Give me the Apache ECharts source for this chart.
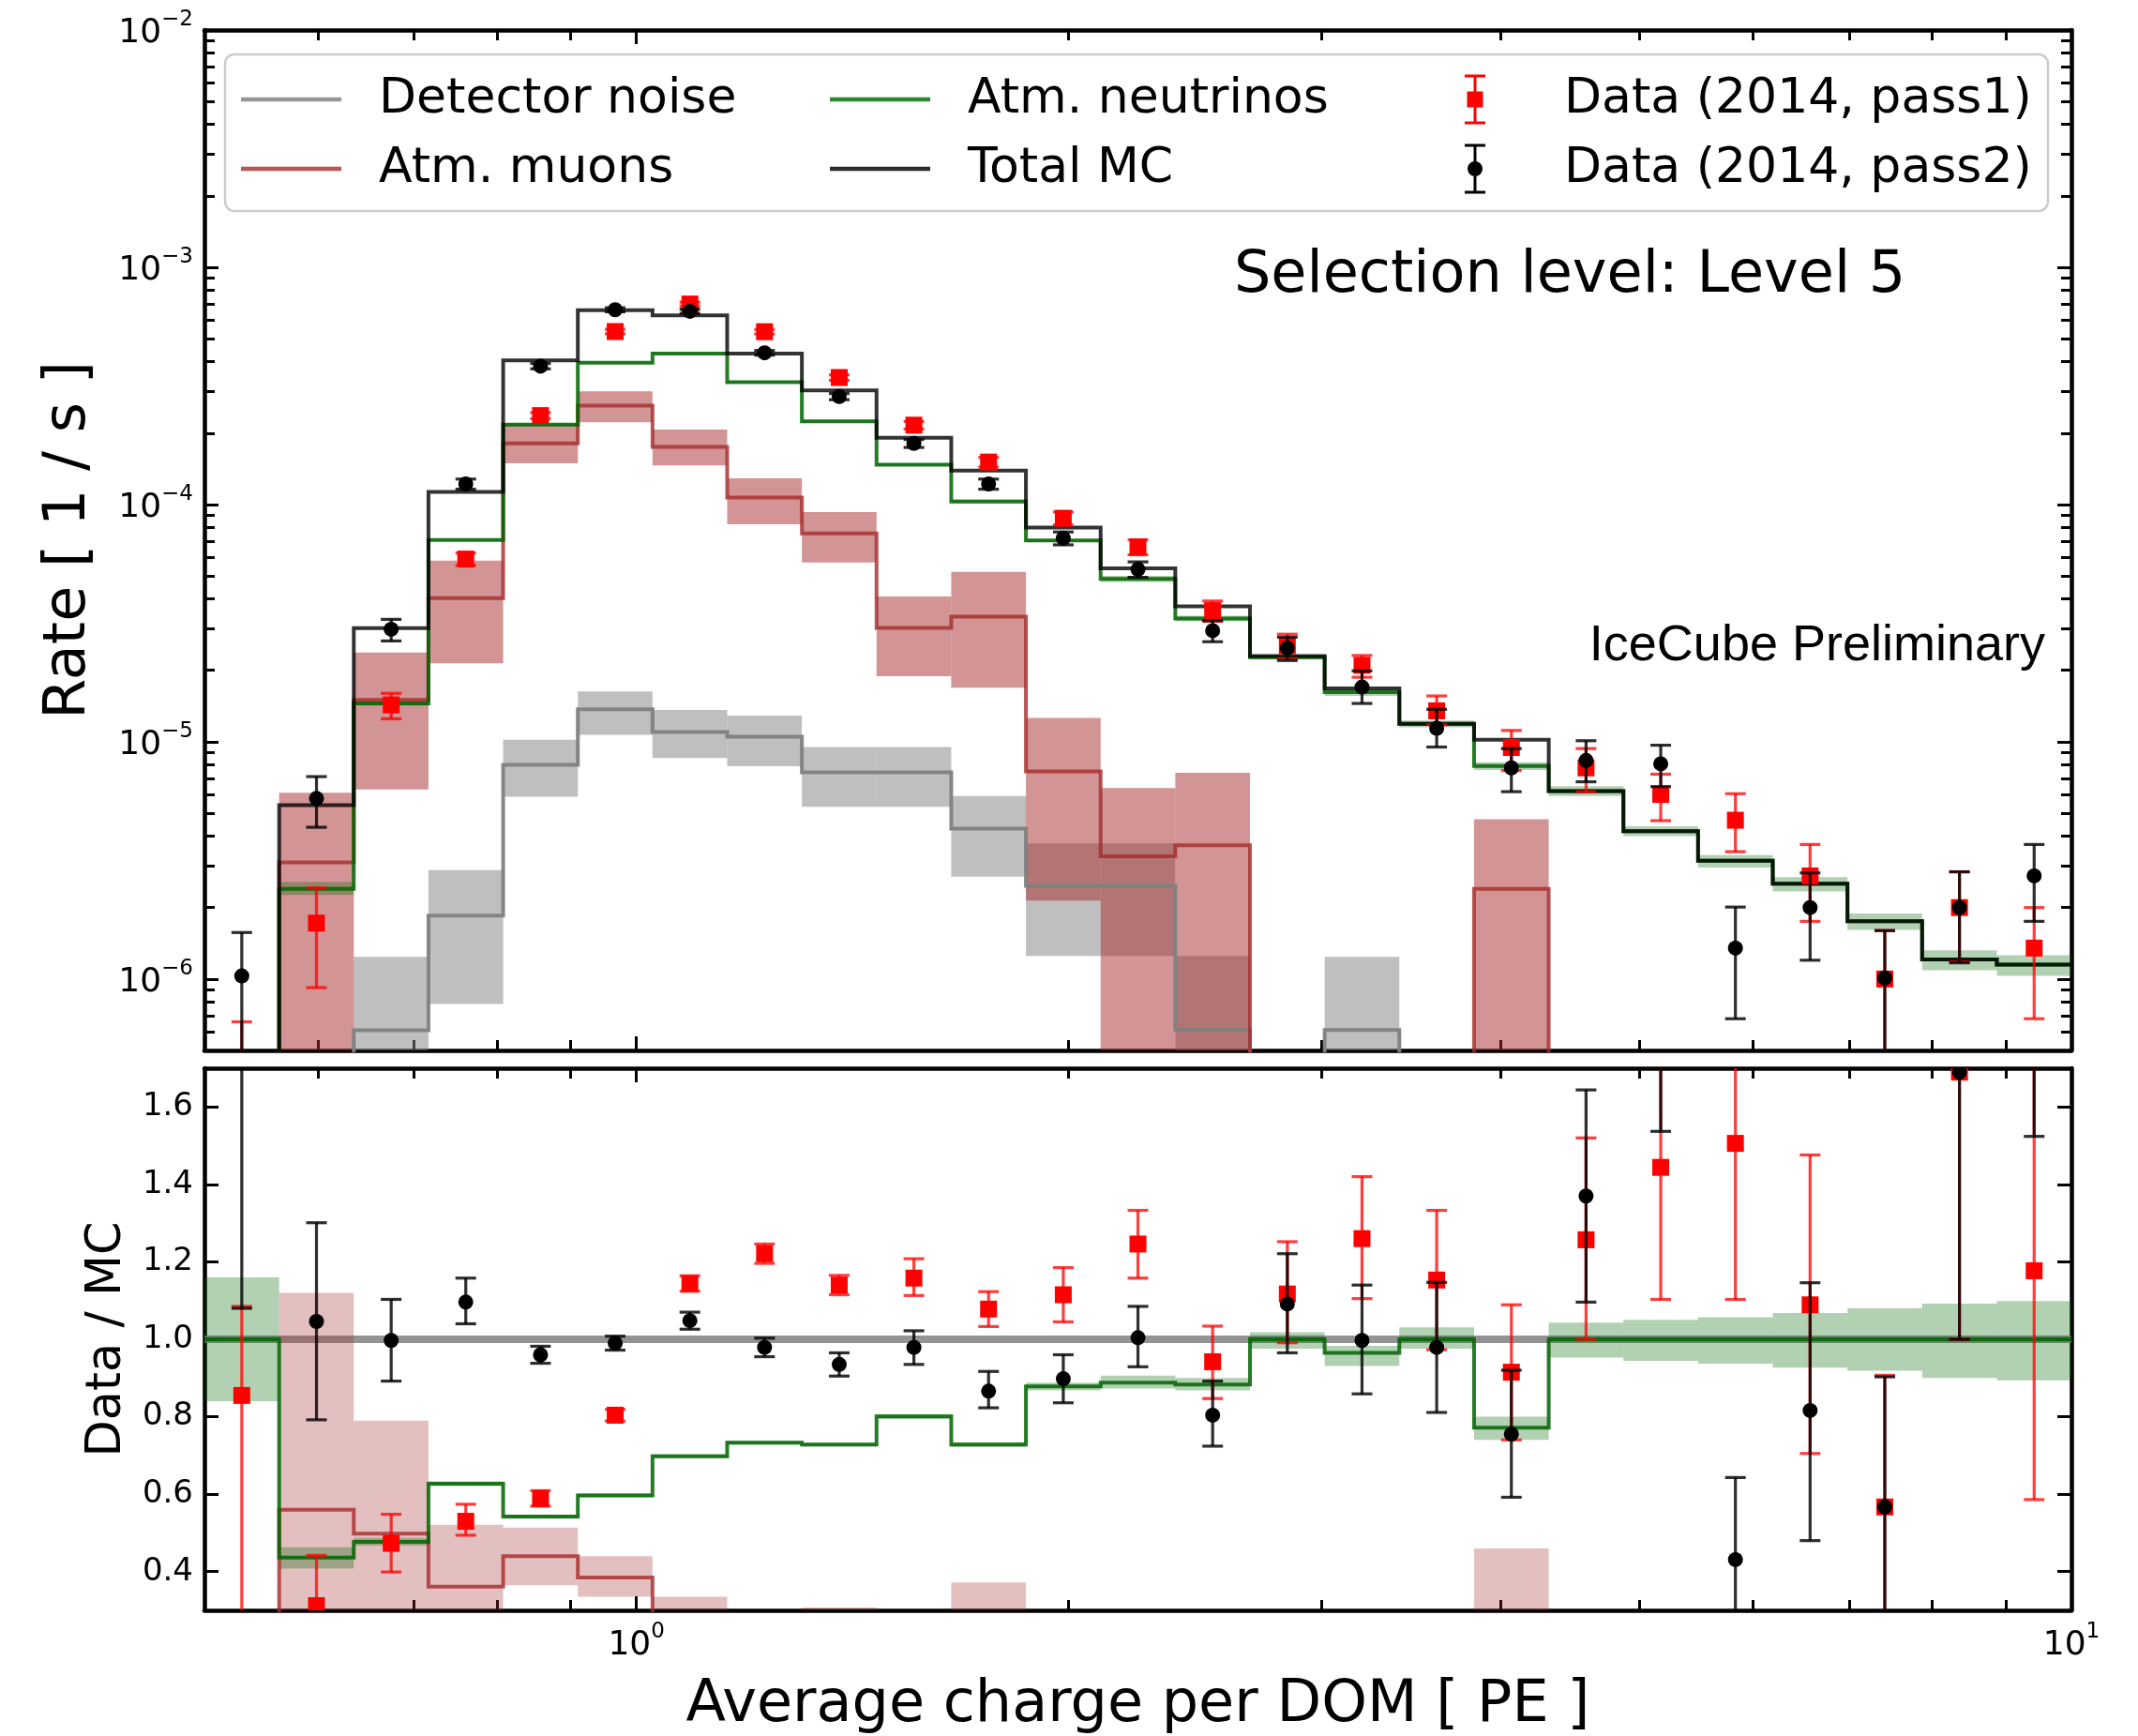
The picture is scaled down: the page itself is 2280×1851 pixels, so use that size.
<!DOCTYPE html>
<html>
<head>
<meta charset="utf-8">
<title>Average charge per DOM</title>
<script src="https://cdn.jsdelivr.net/npm/echarts@6/dist/echarts.min.js"></script>
<style>
  html, body { margin: 0; padding: 0; background: #ffffff; }
  #chart { width: 2280px; height: 1851px; }
</style>
</head>
<body>
<div id="chart"></div>
<script>
// ---------------------------------------------------------------------------
// Histogram binning: 25 log-spaced bins of average charge per DOM [PE]
// ---------------------------------------------------------------------------
const binEdges = [0.5, 0.5637, 0.6354, 0.7163, 0.8075, 0.9103, 1.0262, 1.1568, 1.3041,
  1.4701, 1.6573, 1.8683, 2.1062, 2.3743, 2.6766, 3.0173, 3.4014, 3.8345, 4.3227,
  4.8730, 5.4933, 6.1927, 6.9811, 7.8699, 8.8718, 10];
const binCenters = [0.5309, 0.5985, 0.6747, 0.7605, 0.8574, 0.9665, 1.0896, 1.2283,
  1.3846, 1.5609, 1.7596, 1.9837, 2.2362, 2.5209, 2.8418, 3.2036, 3.6115, 4.0712,
  4.5894, 5.1738, 5.8325, 6.5751, 7.4121, 8.3557, 9.4196];

// Tick positions
const xMajorTicks = [1, 10];
const xMinorTicks = [0.6, 0.7, 0.8, 0.9, 2, 3, 4, 5, 6, 7, 8, 9];
const rateMajorTicks = [1e-6, 1e-5, 1e-4, 1e-3, 1e-2];
const rateMinorTicks = [6e-7, 7e-7, 8e-7, 9e-7,
  2e-6, 3e-6, 4e-6, 5e-6, 6e-6, 7e-6, 8e-6, 9e-6,
  2e-5, 3e-5, 4e-5, 5e-5, 6e-5, 7e-5, 8e-5, 9e-5,
  2e-4, 3e-4, 4e-4, 5e-4, 6e-4, 7e-4, 8e-4, 9e-4,
  2e-3, 3e-3, 4e-3, 5e-3, 6e-3, 7e-3, 8e-3, 9e-3];
const ratioTicks = [0.4, 0.6, 0.8, 1.0, 1.2, 1.4, 1.6];

// ---------------------------------------------------------------------------
// Rates [1/s] (null = empty bin)
// ---------------------------------------------------------------------------
const rateTotalMC = [null, 5.41e-6, 3.01e-5, 1.13e-4, 4.05e-4, 6.59e-4, 6.27e-4, 4.33e-4,
  3.03e-4, 1.91e-4, 1.39e-4, 8.0e-5, 5.38e-5, 3.72e-5, 2.30e-5, 1.68e-5, 1.19e-5,
  1.02e-5, 6.2e-6, 4.2e-6, 3.15e-6, 2.52e-6, 1.75e-6, 1.21e-6, 1.15e-6];

const rateNu = [null, 2.40e-6, 1.45e-5, 7.08e-5, 2.17e-4, 3.96e-4, 4.33e-4, 3.28e-4,
  2.24e-4, 1.47e-4, 1.03e-4, 7.05e-5, 4.86e-5, 3.31e-5, 2.27e-5, 1.62e-5, 1.19e-5,
  7.9e-6, 6.2e-6, 4.2e-6, 3.15e-6, 2.52e-6, 1.75e-6, 1.21e-6, 1.15e-6];
const rateNuLo = [null, 2.26e-6, 1.42e-5, 7.0e-5, 2.15e-4, 3.92e-4, 4.28e-4, 3.24e-4,
  2.21e-4, 1.45e-4, 1.01e-4, 6.95e-5, 4.72e-5, 3.22e-5, 2.22e-5, 1.56e-5, 1.15e-5,
  7.6e-6, 5.9e-6, 4.0e-6, 2.95e-6, 2.34e-6, 1.61e-6, 1.09e-6, 1.03e-6];
const rateNuHi = [null, 2.56e-6, 1.48e-5, 7.18e-5, 2.20e-4, 4.0e-4, 4.38e-4, 3.32e-4,
  2.27e-4, 1.49e-4, 1.05e-4, 7.15e-5, 5.0e-5, 3.4e-5, 2.32e-5, 1.65e-5, 1.23e-5,
  8.2e-6, 6.5e-6, 4.4e-6, 3.33e-6, 2.69e-6, 1.89e-6, 1.32e-6, 1.26e-6];

const rateMu = [null, 3.1e-6, 1.5e-5, 4.03e-5, 1.81e-4, 2.61e-4, 1.75e-4, 1.07e-4,
  7.55e-5, 3.02e-5, 3.37e-5, 7.5e-6, 3.29e-6, 3.66e-6, null, null, null,
  2.4e-6, null, null, null, null, null, null, null];
const rateMuLo = [null, 0, 6.3e-6, 2.14e-5, 1.49e-4, 2.22e-4, 1.46e-4, 8.26e-5,
  5.69e-5, 1.89e-5, 1.69e-5, 2.14e-6, 0, 0, null, null, null,
  0, null, null, null, null, null, null, null];
const rateMuHi = [null, 6.1e-6, 2.38e-5, 5.8e-5, 2.17e-4, 3.0e-4, 2.07e-4, 1.29e-4,
  9.3e-5, 4.1e-5, 5.2e-5, 1.26e-5, 6.38e-6, 7.4e-6, null, null, null,
  4.71e-6, null, null, null, null, null, null, null];

const rateNoise = [null, null, 6.08e-7, 1.85e-6, 8.0e-6, 1.37e-5, 1.10e-5, 1.05e-5,
  7.43e-6, 7.43e-6, 4.3e-6, 2.47e-6, 2.47e-6, 6.12e-7, null, 6.1e-7, null,
  null, null, null, null, null, null, null, null];
const rateNoiseLo = [null, null, 0, 7.84e-7, 5.87e-6, 1.07e-5, 8.53e-6, 7.89e-6,
  5.32e-6, 5.32e-6, 2.7e-6, 1.25e-6, 1.25e-6, 0, null, 0, null,
  null, null, null, null, null, null, null, null];
const rateNoiseHi = [null, null, 1.24e-6, 2.88e-6, 1.02e-5, 1.63e-5, 1.36e-5, 1.29e-5,
  9.5e-6, 9.5e-6, 5.9e-6, 3.73e-6, 3.73e-6, 1.25e-6, null, 1.24e-6, null,
  null, null, null, null, null, null, null, null];

const ratePass1 = [4.4e-7, 1.72e-6, 1.43e-5, 5.89e-5, 2.37e-4, 5.36e-4, 7.0e-4, 5.35e-4,
  3.43e-4, 2.16e-4, 1.51e-4, 8.75e-5, 6.62e-5, 3.57e-5, 2.54e-5, 2.1e-5, 1.35e-5,
  9.46e-6, 7.76e-6, 6.0e-6, 4.67e-6, 2.72e-6, 1.0e-6, 2.0e-6, 1.35e-6];
const ratePass1Up = [2.2e-7, 7.0e-7, 1.7e-6, 3.5e-6, 7e-6, 1.2e-5, 1.3e-5, 1.2e-5,
  9e-6, 8e-6, 7e-6, 5.5e-6, 4.8e-6, 3.5e-6, 3.0e-6, 2.1e-6, 2.1e-6,
  1.7e-6, 1.6e-6, 1.3e-6, 1.37e-6, 9.7e-7, 6.0e-7, 8.3e-7, 6.5e-7];
const ratePass1Down = [2.5e-7, 8.0e-7, 1.8e-6, 3.5e-6, 7e-6, 1.2e-5, 1.3e-5, 1.2e-5,
  9e-6, 8e-6, 7e-6, 5.5e-6, 4.8e-6, 3.5e-6, 3.0e-6, 2.3e-6, 1.7e-6,
  1.9e-6, 1.6e-6, 1.35e-6, 1.23e-6, 9.7e-7, 5.5e-7, 8.2e-7, 6.7e-7];

const ratePass2 = [1.03e-6, 5.77e-6, 2.98e-5, 1.22e-4, 3.83e-4, 6.62e-4, 6.52e-4, 4.36e-4,
  2.85e-4, 1.81e-4, 1.22e-4, 7.21e-5, 5.33e-5, 2.94e-5, 2.48e-5, 1.70e-5, 1.14e-5,
  7.76e-6, 8.34e-6, 8.07e-6, 1.35e-6, 2.0e-6, 1.01e-6, 2.0e-6, 2.72e-6];
const ratePass2Up = [5.4e-7, 1.36e-6, 3.0e-6, 6e-6, 1.0e-5, 1.3e-5, 1.3e-5, 1.0e-5,
  8.5e-6, 7e-6, 6e-6, 4.5e-6, 4.0e-6, 3.0e-6, 2.8e-6, 2.9e-6, 2.3e-6,
  1.6e-6, 1.76e-6, 1.6e-6, 6.6e-7, 8.0e-7, 5.9e-7, 8.3e-7, 9.7e-7];
const ratePass2Down = [6.0e-7, 1.41e-6, 3.2e-6, 6e-6, 1.0e-5, 1.3e-5, 1.3e-5, 1.0e-5,
  8.5e-6, 7e-6, 6e-6, 4.5e-6, 4.0e-6, 3.0e-6, 2.8e-6, 2.5e-6, 1.9e-6,
  1.6e-6, 1.56e-6, 1.6e-6, 6.7e-7, 8.0e-7, 6.0e-7, 8.3e-7, 9.7e-7];

// ---------------------------------------------------------------------------
// Data / MC ratios
// ---------------------------------------------------------------------------
const ratioTotalMC = [1, 1, 1, 1, 1, 1, 1, 1, 1, 1, 1, 1, 1, 1, 1, 1, 1, 1, 1, 1, 1, 1, 1, 1, 1];

const ratioNu = [1.0, 0.436, 0.477, 0.627, 0.542, 0.597, 0.698, 0.733, 0.728, 0.801,
  0.728, 0.878, 0.888, 0.883, 1.0, 0.965, 1.0, 0.772, 1.0, 1.0, 1.0, 1.0, 1.0, 1.0, 1.0];
const ratioNuLo = [0.84, 0.408, 0.467, 0.621, 0.537, 0.592, 0.693, 0.728, 0.723, 0.795,
  0.722, 0.868, 0.873, 0.868, 0.976, 0.931, 0.976, 0.74, 0.953, 0.944, 0.937, 0.927,
  0.919, 0.90, 0.894];
const ratioNuHi = [1.16, 0.463, 0.487, 0.633, 0.547, 0.602, 0.703, 0.738, 0.733, 0.807,
  0.734, 0.888, 0.906, 0.90, 1.018, 0.983, 1.031, 0.80, 1.043, 1.05, 1.057, 1.068,
  1.08, 1.092, 1.099];

const ratioMu = [null, 0.56, 0.498, 0.361, 0.44, 0.385, 0.279, 0.247, 0.249, 0.158,
  0.242, 0.094, 0.061, 0.098, null, null, null, 0.235, null, null, null, null, null, null, null];
const ratioMuLo = [null, 0, 0.21, 0.19, 0.365, 0.335, 0.233, 0.19, 0.188, 0.099,
  0.122, 0.027, 0, 0, null, null, null, 0, null, null, null, null, null, null, null];
const ratioMuHi = [null, 1.12, 0.79, 0.521, 0.514, 0.44, 0.335, 0.298, 0.307, 0.215,
  0.372, 0.158, 0.118, 0.2, null, null, null, 0.46, null, null, null, null, null, null, null];

const ratioPass1 = [0.855, 0.312, 0.473, 0.530, 0.589, 0.804, 1.144, 1.221, 1.14, 1.158,
  1.078, 1.115, 1.246, 0.942, 1.117, 1.26, 1.153, 0.915, 1.257, 1.444, 1.506, 1.089,
  0.567, 1.69, 1.177];
const ratioPass1Up = [0.23, 0.13, 0.075, 0.044, 0.02, 0.015, 0.02, 0.025, 0.025, 0.05,
  0.045, 0.07, 0.087, 0.092, 0.135, 0.16, 0.18, 0.174, 0.263, 0.34, 0.40, 0.387,
  0.34, 0.69, 0.59];
const ratioPass1Down = [0.6, 0.13, 0.074, 0.036, 0.02, 0.015, 0.02, 0.025, 0.025, 0.045,
  0.045, 0.07, 0.088, 0.095, 0.126, 0.155, 0.18, 0.175, 0.257, 0.341, 0.403, 0.384,
  0.34, 0.69, 0.591];

const ratioPass2 = [2.2, 1.046, 0.997, 1.096, 0.96, 0.99, 1.048, 0.979, 0.935, 0.979,
  0.866, 0.898, 1.004, 0.804, 1.091, 0.997, 0.979, 0.755, 1.37, 1.89, 0.431, 0.816,
  0.567, 1.69, 2.34];
const ratioPass2Up = [1.0, 0.255, 0.106, 0.062, 0.022, 0.018, 0.022, 0.024, 0.03, 0.043,
  0.051, 0.062, 0.081, 0.088, 0.13, 0.143, 0.168, 0.165, 0.274, 0.35, 0.212, 0.33,
  0.336, 0.69, 0.82];
const ratioPass2Down = [1.12, 0.254, 0.105, 0.056, 0.022, 0.018, 0.022, 0.024, 0.03, 0.044,
  0.043, 0.062, 0.075, 0.08, 0.126, 0.138, 0.168, 0.163, 0.274, 0.353, 0.212, 0.336,
  0.336, 0.69, 0.816];

// ---------------------------------------------------------------------------
// Styling
// ---------------------------------------------------------------------------
const FONT = 'DejaVu Sans';
const COLORS = {
  noiseLine: 'rgba(128,128,128,0.95)',
  noiseBand: 'rgba(128,128,128,0.5)',
  muLine: 'rgba(165,42,42,0.8)',
  muBand: 'rgba(165,42,42,0.5)',
  muBandLight: 'rgba(165,42,42,0.3)',
  nuLine: 'rgba(0,100,0,0.85)',
  nuBand: 'rgba(0,100,0,0.3)',
  mcLine: 'rgba(0,0,0,0.8)',
  mcRatioLine: 'rgba(128,128,128,0.85)',
  pass1: '#ff0000',
  pass1Bar: 'rgba(255,0,0,0.76)',
  pass2: '#000000',
  pass2Bar: 'rgba(0,0,0,0.82)'
};
const RATE_MIN = 5e-7, RATE_MAX = 1e-2, RATE_FLOOR = 1e-9;
const RATIO_MIN = 0.3, RATIO_MAX = 1.7;

// ---------------------------------------------------------------------------
// Series builders
// ---------------------------------------------------------------------------
function stepLine(name, xi, yi, vals, floor, color, width, z) {
  const pts = vals.map((v, i) => [binEdges[i], v == null ? floor : v]);
  const last = vals[vals.length - 1];
  pts.push([binEdges[vals.length], last == null ? floor : last]);
  return {
    type: 'line', name, xAxisIndex: xi, yAxisIndex: yi, step: 'end', data: pts,
    symbol: 'none', showSymbol: false, clip: true, silent: true, z,
    lineStyle: { color, width, join: 'miter', cap: 'butt' },
    itemStyle: { color }
  };
}

function bands(name, xi, yi, lo, hi, floor, color, z) {
  const data = [];
  hi.forEach((h, i) => {
    if (h == null) return;
    const l = lo[i] == null ? floor : Math.max(lo[i], floor);
    data.push([binEdges[i], binEdges[i + 1], l, h]);
  });
  return {
    type: 'custom', name, xAxisIndex: xi, yAxisIndex: yi, clip: true, silent: true, z,
    encode: { x: [0, 1], y: [2, 3] }, data,
    renderItem(params, api) {
      const a = api.coord([api.value(0), api.value(3)]);
      const b = api.coord([api.value(1), api.value(2)]);
      return { type: 'rect', shape: { x: a[0], y: a[1], width: b[0] - a[0], height: b[1] - a[1] },
        style: { fill: color } };
    }
  };
}

function errorBars(name, xi, yi, vals, up, down, floor, marker, color, barColor, z) {
  const data = vals.map((v, i) => [binCenters[i], v, Math.max(v - down[i], floor), v + up[i]]);
  return {
    type: 'custom', name, xAxisIndex: xi, yAxisIndex: yi, clip: true, silent: true, z,
    encode: { x: 0, y: [1, 2, 3] }, data,
    renderItem(params, api) {
      const c = api.coord([api.value(0), api.value(1)]);
      const lo = api.coord([api.value(0), api.value(2)]);
      const hi = api.coord([api.value(0), api.value(3)]);
      const cap = 11;
      const ls = { stroke: barColor, lineWidth: 3.2 };
      const children = [
        { type: 'line', shape: { x1: c[0], y1: hi[1], x2: c[0], y2: lo[1] }, style: ls },
        { type: 'line', shape: { x1: c[0] - cap, y1: hi[1], x2: c[0] + cap, y2: hi[1] }, style: ls },
        { type: 'line', shape: { x1: c[0] - cap, y1: lo[1], x2: c[0] + cap, y2: lo[1] }, style: ls }
      ];
      if (marker === 'square') {
        children.push({ type: 'rect', shape: { x: c[0] - 9, y: c[1] - 9, width: 18, height: 18 },
          style: { fill: color } });
      } else {
        children.push({ type: 'circle', shape: { cx: c[0], cy: c[1], r: 8 }, style: { fill: color } });
      }
      return { type: 'group', children };
    }
  };
}

// ---------------------------------------------------------------------------
// Axes: every panel gets a full frame with inward ticks on all four sides
// ---------------------------------------------------------------------------
const powRich = {
  b: { fontFamily: FONT, fontSize: 36, color: '#000', lineHeight: 44, verticalAlign: 'bottom' },
  s: { fontFamily: FONT, fontSize: 23, color: '#000', lineHeight: 26, verticalAlign: 'top' }
};
function powLabel(v) {
  const e = Math.round(Math.log10(v));
  return '{b|10}{s|' + (e < 0 ? '\u2212' + (-e) : String(e)) + '}';
}

function frameAxis(o) {
  const a = {
    type: o.type, gridIndex: o.grid, position: o.position, min: o.min, max: o.max,
    axisLine: { show: !!o.line, onZero: false, lineStyle: { color: '#000', width: 4.5 } },
    axisTick: { show: true, inside: true, length: o.tickLen, customValues: o.ticks,
      lineStyle: { color: '#000', width: 3 } },
    axisLabel: o.label ? Object.assign({ show: true, customValues: o.ticks }, o.label) : { show: false },
    splitLine: { show: false },
    minorTick: { show: false },
    axisPointer: { show: false },
    silent: true
  };
  if (o.type === 'log') a.logBase = 10;
  if (o.name) Object.assign(a, o.name);
  return a;
}

const MAJOR_LEN = 15, MINOR_LEN = 11;
const xAxes = [];
[0, 1].forEach(g => {
  const xl = { type: 'log', grid: g, min: 0.5, max: 10 };
  xAxes.push(frameAxis(Object.assign({}, xl, {
    position: 'bottom', line: true, ticks: xMajorTicks, tickLen: MAJOR_LEN,
    label: g === 1 ? { margin: 12, formatter: powLabel, rich: powRich } : null,
    name: g === 1 ? {
      name: 'Average charge per DOM [ PE ]', nameLocation: 'middle', nameGap: 71,
      nameTextStyle: { fontFamily: FONT, fontSize: 62, color: '#000' }
    } : null
  })));
  xAxes.push(frameAxis(Object.assign({}, xl, { position: 'bottom', ticks: xMinorTicks, tickLen: MINOR_LEN })));
  xAxes.push(frameAxis(Object.assign({}, xl, { position: 'top', line: true, ticks: xMajorTicks, tickLen: MAJOR_LEN })));
  xAxes.push(frameAxis(Object.assign({}, xl, { position: 'top', ticks: xMinorTicks, tickLen: MINOR_LEN })));
});

const yRate = { type: 'log', grid: 0, min: RATE_MIN, max: RATE_MAX };
const yRatio = { type: 'value', grid: 1, min: RATIO_MIN, max: RATIO_MAX };
const yAxes = [
  frameAxis(Object.assign({}, yRate, {
    position: 'left', line: true, ticks: rateMajorTicks, tickLen: MAJOR_LEN,
    label: { margin: 12, formatter: powLabel, rich: powRich },
    name: { name: 'Rate [ 1 / s ]', nameLocation: 'middle', nameGap: 113,
      nameTextStyle: { fontFamily: FONT, fontSize: 62, color: '#000' } }
  })),
  frameAxis(Object.assign({}, yRate, { position: 'left', ticks: rateMinorTicks, tickLen: MINOR_LEN })),
  frameAxis(Object.assign({}, yRate, { position: 'right', line: true, ticks: rateMajorTicks, tickLen: MAJOR_LEN })),
  frameAxis(Object.assign({}, yRate, { position: 'right', ticks: rateMinorTicks, tickLen: MINOR_LEN })),
  frameAxis(Object.assign({}, yRatio, {
    position: 'left', line: true, ticks: ratioTicks, tickLen: MAJOR_LEN,
    label: { margin: 12, fontFamily: FONT, fontSize: 34, color: '#000', formatter: v => v.toFixed(1) },
    name: { name: 'Data / MC', nameLocation: 'middle', nameGap: 78,
      nameTextStyle: { fontFamily: FONT, fontSize: 51, color: '#000' } }
  })),
  frameAxis(Object.assign({}, yRatio, { position: 'right', line: true, ticks: ratioTicks, tickLen: MAJOR_LEN }))
];

// ---------------------------------------------------------------------------
// Series
// ---------------------------------------------------------------------------
const series = [
  // upper panel: rates
  stepLine('Detector noise', 0, 0, rateNoise, RATE_FLOOR, COLORS.noiseLine, 4, 3),
  stepLine('Atm. muons', 0, 0, rateMu, RATE_FLOOR, COLORS.muLine, 4, 3),
  stepLine('Atm. neutrinos', 0, 0, rateNu, RATE_FLOOR, COLORS.nuLine, 4, 3),
  stepLine('Total MC', 0, 0, rateTotalMC, RATE_FLOOR, COLORS.mcLine, 4, 4),
  errorBars('Data (2014, pass1)', 0, 0, ratePass1, ratePass1Up, ratePass1Down, RATE_FLOOR,
    'square', COLORS.pass1, COLORS.pass1Bar, 5),
  errorBars('Data (2014, pass2)', 0, 0, ratePass2, ratePass2Up, ratePass2Down, RATE_FLOOR,
    'circle', COLORS.pass2, COLORS.pass2Bar, 6),
  bands('Detector noise', 0, 0, rateNoiseLo, rateNoiseHi, RATE_FLOOR, COLORS.noiseBand, 1),
  bands('Atm. muons', 0, 0, rateMuLo, rateMuHi, RATE_FLOOR, COLORS.muBand, 1),
  bands('Atm. neutrinos', 0, 0, rateNuLo, rateNuHi, RATE_FLOOR, COLORS.nuBand, 1),

  // lower panel: data / MC
  stepLine('Total MC', 4, 4, ratioTotalMC, 0, COLORS.mcRatioLine, 8, 1),
  bands('Atm. muons', 4, 4, ratioMuLo, ratioMuHi, 0, COLORS.muBandLight, 2),
  bands('Atm. neutrinos', 4, 4, ratioNuLo, ratioNuHi, 0, COLORS.nuBand, 2),
  stepLine('Atm. muons', 4, 4, ratioMu, 0, COLORS.muLine, 4, 3),
  stepLine('Atm. neutrinos', 4, 4, ratioNu, 0, COLORS.nuLine, 4, 3),
  errorBars('Data (2014, pass1)', 4, 4, ratioPass1, ratioPass1Up, ratioPass1Down, -1,
    'square', COLORS.pass1, COLORS.pass1Bar, 5),
  errorBars('Data (2014, pass2)', 4, 4, ratioPass2, ratioPass2Up, ratioPass2Down, -1,
    'circle', COLORS.pass2, COLORS.pass2Bar, 6)
];

// ---------------------------------------------------------------------------
// Legend (three columns of two entries inside one rounded frame)
// ---------------------------------------------------------------------------
const LINE_ICON = 'path://M0,0h107v4.4h-107z';
const PASS1_ICON = 'path://M0,0H22V3H0Z M9.5,0H12.5V53H9.5Z M0,50H22V53H0Z M2.5,18H19.5V35H2.5Z';
const PASS2_ICON = 'path://M0,0H22V3H0Z M9.5,0H12.5V53H9.5Z M0,50H22V53H0Z ' +
  'M3,26.5A8,8 0 1,1 19,26.5A8,8 0 1,1 3,26.5Z';
function legendCol(left, width, textPad, items) {
  return {
    orient: 'vertical', left, top: 79.5, padding: 0, itemWidth: width, itemHeight: 53,
    itemGap: 21, selectedMode: false, symbolKeepAspect: true,
    textStyle: { fontFamily: FONT, fontSize: 52, color: '#000', lineHeight: 53, padding: [0, 0, 0, textPad] },
    data: items.map(it => ({ name: it[0], icon: it[1], itemStyle: { color: it[2], borderWidth: 0 } }))
  };
}
const legends = [
  legendCol(257, 107, 35, [['Detector noise', LINE_ICON, 'rgb(150,150,150)'],
                           ['Atm. muons', LINE_ICON, 'rgb(185,85,85)']]),
  legendCol(885, 107, 35, [['Atm. neutrinos', LINE_ICON, 'rgb(45,135,45)'],
                           ['Total MC', LINE_ICON, 'rgb(45,45,45)']]),
  legendCol(1562, 22, 79, [['Data (2014, pass1)', PASS1_ICON, '#ff0000'],
                           ['Data (2014, pass2)', PASS2_ICON, '#000000']])
];

const chart = echarts.init(document.getElementById('chart'), null, { renderer: 'canvas' });
chart.setOption({
  animation: false,
  backgroundColor: '#ffffff',
  grid: [
    { left: 218, top: 32, width: 1991, height: 1088, containLabel: false },
    { left: 218, top: 1139, width: 1991, height: 581, containLabel: false }
  ],
  xAxis: xAxes,
  yAxis: yAxes,
  legend: legends,
  graphic: [
    { type: 'rect', z: 3, silent: true,
      shape: { x: 240, y: 58, width: 1944, height: 167, r: 10 },
      style: { fill: 'rgba(255,255,255,0.8)', stroke: '#cccccc', lineWidth: 2.5 } },
    { type: 'text', x: 1316, y: 295, silent: true,
      style: { text: 'Selection level: Level 5', font: '62px "DejaVu Sans"', fill: '#000',
        align: 'left', verticalAlign: 'middle' } },
    { type: 'text', x: 2181, y: 689, silent: true,
      style: { text: 'IceCube Preliminary', font: '54px "Liberation Sans"', fill: '#000',
        align: 'right', verticalAlign: 'middle' } }
  ],
  series
});
</script>
</body>
</html>
